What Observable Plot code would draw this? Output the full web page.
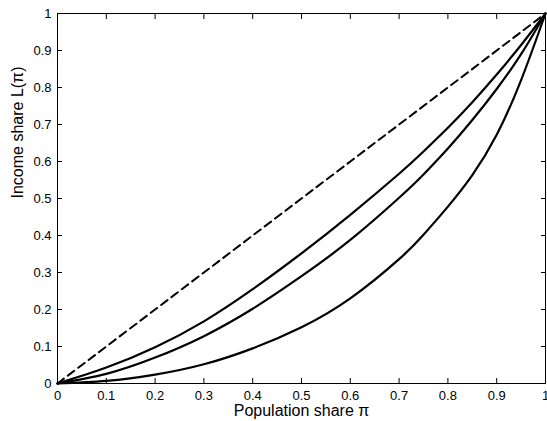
<!DOCTYPE html>
<html>
<head>
<meta charset="utf-8">
<script src="https://cdn.jsdelivr.net/npm/d3@7"></script>
<script src="https://cdn.jsdelivr.net/npm/@observablehq/plot@0.6"></script>
<style>
  html, body { margin: 0; padding: 0; background: #fff; }
  #chart svg { overflow: visible; }
</style>
</head>
<body>
<div id="chart"></div>
<script>
const populationShare = [0, 0.1, 0.2, 0.3, 0.4, 0.5, 0.6, 0.7, 0.75, 0.8, 0.85, 0.9, 0.95, 1];
const curveA = [0, 0.043, 0.098, 0.168, 0.255, 0.352, 0.456, 0.567, 0.627, 0.691, 0.760, 0.835, 0.915, 1];
const curveB = [0, 0.026, 0.070, 0.128, 0.202, 0.290, 0.388, 0.502, 0.565, 0.635, 0.712, 0.796, 0.890, 1];
const curveC = [0, 0.007, 0.024, 0.052, 0.095, 0.152, 0.230, 0.336, 0.402, 0.478, 0.563, 0.672, 0.820, 1];
const equality = [0, 1];
const tickValues = [0, 0.1, 0.2, 0.3, 0.4, 0.5, 0.6, 0.7, 0.8, 0.9, 1];
const tickLabels = ["0", "0.1", "0.2", "0.3", "0.4", "0.5", "0.6", "0.7", "0.8", "0.9", "1"];
const xTitle = "Population share π";
const yTitle = "Income share L(π)";

const series = [curveA, curveB, curveC].flatMap((vals, k) =>
  populationShare.map((p, i) => ({p, L: vals[i], s: k})));
const diag = equality.map(v => ({p: v, L: v}));
const fmt = d => tickLabels[tickValues.indexOf(d)] ?? "";

const chart = Plot.plot({
  width: 547,
  height: 421,
  marginLeft: 57,
  marginRight: 2,
  marginTop: 13,
  marginBottom: 38,
  style: {fontFamily: "'Liberation Sans', Arial, Helvetica, sans-serif", background: "#fff", color: "#000"},
  x: {domain: [0, 1]},
  y: {domain: [0, 1]},
  marks: [
    Plot.line(diag, {x: "p", y: "L", stroke: "#000", strokeWidth: 2, strokeDasharray: "8,5"}),
    Plot.line(series, {x: "p", y: "L", z: "s", stroke: "#000", strokeWidth: 2.2, curve: "natural"}),
    Plot.frame({stroke: "#000", strokeWidth: 1}),
    Plot.axisX({ticks: tickValues, tickFormat: fmt, tickSize: -5, tickPadding: 12, fontSize: 13, label: null}),
    Plot.axisX({anchor: "top", ticks: tickValues, tickFormat: () => "", tickSize: -5, label: null}),
    Plot.axisY({ticks: tickValues, tickFormat: fmt, tickSize: -5, tickPadding: 11, fontSize: 13, label: null}),
    Plot.axisY({anchor: "right", ticks: tickValues, tickFormat: () => "", tickSize: -5, label: null}),
    Plot.text([xTitle], {frameAnchor: "bottom", dy: 32, fontSize: 16, fill: "#000"}),
    Plot.text([yTitle], {frameAnchor: "left", dx: -40, rotate: -90, fontSize: 16, fill: "#000"})
  ]
});
document.getElementById("chart").appendChild(chart);
</script>
</body>
</html>
